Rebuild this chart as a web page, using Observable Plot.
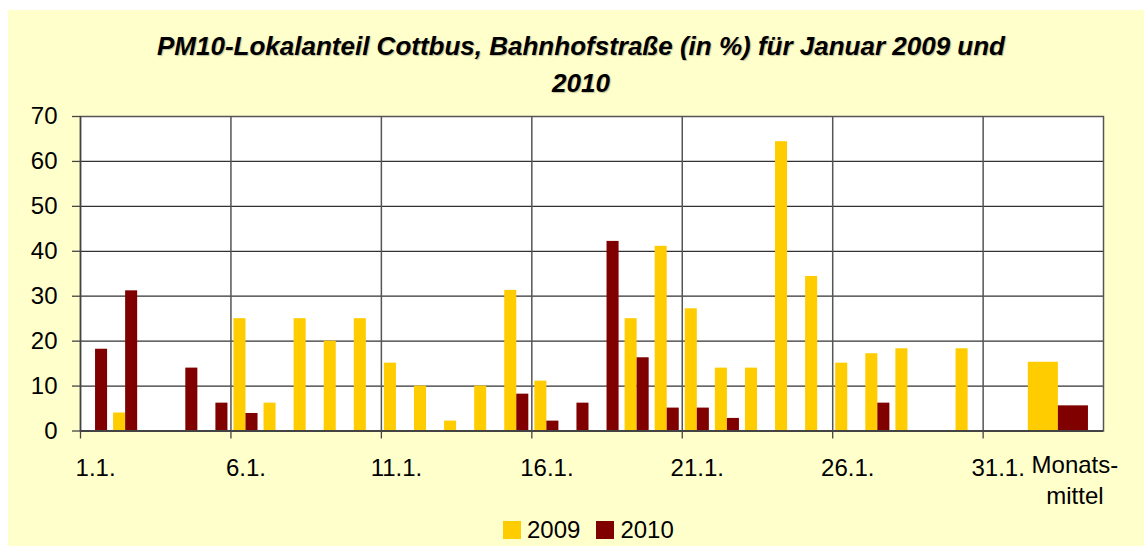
<!DOCTYPE html>
<html>
<head>
<meta charset="utf-8">
<script src="https://cdn.jsdelivr.net/npm/d3@7"></script>
<script src="https://cdn.jsdelivr.net/npm/@observablehq/plot@0.6"></script>
<style>
  body { margin: 0; background: #fff; }
  #page { position: relative; width: 1144px; height: 546px; overflow: hidden; font-family: "Liberation Sans", Arial, sans-serif; color: #000; }
  #bg { position: absolute; left: 8px; top: 10px; width: 1136px; height: 536px; background: #FFFFCC; }
  #title { position: absolute; left: 0; width: 1162px; top: 28px; text-align: center; font-weight: bold; font-style: italic; font-size: 26px; line-height: 37px; text-shadow: 1px 1px 1px rgba(0,0,0,0.25); }
  #chart { position: absolute; left: 0; top: 100px; }
  #legend { position: absolute; left: 503px; top: 518px; height: 24px; display: flex; align-items: center; font-size: 24px; line-height: 24px; }
  .sw { width: 18px; height: 18px; display: inline-block; margin-right: 6px; }
  .item { display: flex; align-items: center; margin-right: 16px; }
</style>
</head>
<body>
<div id="page">
  <div id="bg"></div>
  <div id="title">PM10-Lokalanteil Cottbus, Bahnhofstraße (in %) für Januar 2009 und<br>2010</div>
  <div id="chart"></div>
  <div id="legend"></div>
</div>
<script>
// ---- data ----
const series = ["2009", "2010"];
const seriesColors = ["#FFCC00", "#800000"];
const days = d3.range(1, 32);
const values2009 = [null, 4, null, null, null, 25, 6.2, 25, 20, 25, 15.1, 10, 2.2, 10, 31.3, 11.1, null, null, 25, 41.1, 27.2, 14, 14, 64.4, 34.4, 15.1, 17.2, 18.3, null, 18.3, null];
const values2010 = [18.2, 31.2, null, 14, 6.2, 3.9, null, null, null, null, null, null, null, null, 8.2, 2.2, 6.2, 42.2, 16.3, 5.1, 5.1, 2.8, null, null, null, null, 6.2, null, null, null, null];
const monthMean = [15.3, 5.6];           // Monatsmittel 2009, 2010
const monthLabel = "Monats-\nmittel";
const dayTickLabels = ["1.1.", "6.1.", "11.1.", "16.1.", "21.1.", "26.1.", "31.1."];
const dayTickDays = [1, 6, 11, 16, 21, 26, 31];
const yTicks = [0, 10, 20, 30, 40, 50, 60, 70];

// ---- build table ----
const barW = 0.4;
const dailyBars = [];
days.forEach((d, i) => {
  if (values2009[i] != null) dailyBars.push({ x1: d - barW, x2: d, value: values2009[i], series: "2009" });
  if (values2010[i] != null) dailyBars.push({ x1: d, x2: d + barW, value: values2010[i], series: "2010" });
});
// Monatsmittel category sits after the last day, two wide bars
const meanStart = 32;
const meanBars = series.map((s, i) => ({ x1: meanStart + i, x2: meanStart + i + 1, value: monthMean[i], series: s }));
const bars = dailyBars.concat(meanBars);

const boundaryTicks = d3.range(0.5, 31, 5);   // 0.5, 5.5, ... 30.5
const gridX = boundaryTicks.slice(1);
const gridY = yTicks.slice(1, -1);

const chart = Plot.plot({
  width: 1144,
  height: 410,
  marginLeft: 80,
  marginRight: 41,
  marginTop: 16,
  marginBottom: 79.5,
  x: { domain: [0.5, 34.5], axis: null },
  y: { domain: [0, 70], axis: null },
  color: { domain: series, range: seriesColors },
  style: { background: "transparent", fontFamily: "'Liberation Sans', Arial, sans-serif", fontSize: "24px", color: "#000", overflow: "visible" },
  marks: [
    Plot.frame({ fill: "white" }),
    Plot.ruleY(gridY, { stroke: "#333", strokeWidth: 1.3 }),
    Plot.ruleX(gridX, { stroke: "#555", strokeWidth: 1.5 }),
    Plot.rectY(bars, { x1: "x1", x2: "x2", y: "value", fill: "series" }),
    Plot.frame({ stroke: "#555", strokeWidth: 1.5 }),
    Plot.ruleY([0], { stroke: "#444", strokeWidth: 2.2 }),
    Plot.ruleX([0.5], { stroke: "#444", strokeWidth: 1.5 }),
    Plot.axisY({ ticks: yTicks, tickSize: 8, tickPadding: 15, fontSize: 24, stroke: "#444", strokeWidth: 1.3, label: null }),
    Plot.axisX({ ticks: boundaryTicks, tickSize: 8, tickFormat: () => "", stroke: "#444", strokeWidth: 1.3, label: null }),
    Plot.axisX({ ticks: dayTickDays, tickSize: 0, tickPadding: 27.5, fontSize: 24, label: null, tickFormat: (d) => dayTickLabels[dayTickDays.indexOf(d)] }),
    Plot.text([monthLabel], { x: [33.55], frameAnchor: "bottom", dy: 19.5, lineAnchor: "top", lineHeight: 1.3, fontSize: 24, text: (d) => d })
  ]
});
document.getElementById("chart").appendChild(chart);

// ---- legend ----
const legend = document.getElementById("legend");
series.forEach((s, i) => {
  const item = document.createElement("span");
  item.className = "item";
  const sw = document.createElement("span");
  sw.className = "sw";
  sw.style.background = seriesColors[i];
  item.appendChild(sw);
  item.appendChild(document.createTextNode(s));
  legend.appendChild(item);
});
</script>
</body>
</html>
